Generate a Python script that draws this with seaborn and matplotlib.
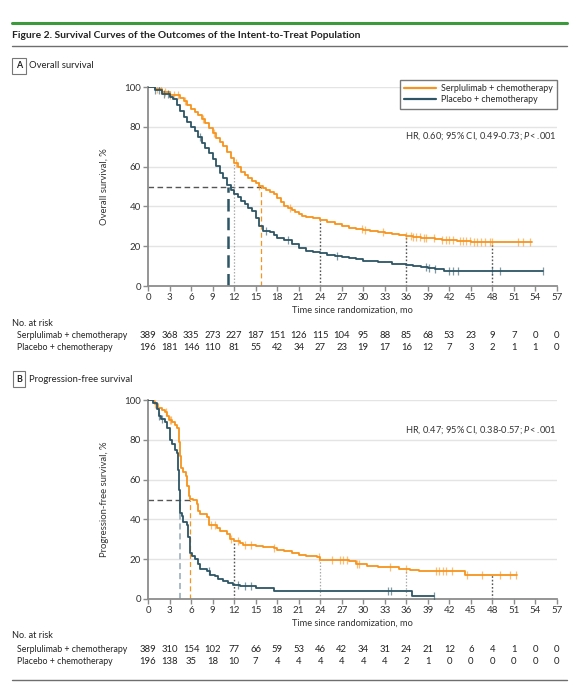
import numpy as np
import pandas as pd
import matplotlib
matplotlib.use("Agg")
import matplotlib.pyplot as plt
import matplotlib.transforms as mtrans
from matplotlib import font_manager
import seaborn as sns

# ---------------- data ----------------
arms = ["Serplulimab + chemotherapy", "Placebo + chemotherapy"]
months = list(range(0, 58, 3))

# Panel A: overall survival (step curves)
os_serp_t = [0, 1, 2, 3, 4.5, 5, 5.5, 6, 6.5, 7, 7.5, 8, 8.5, 9, 9.5, 10, 10.5, 11, 11.5, 12,
             12.5, 13, 13.5, 14, 14.5, 15, 15.5, 16, 16.5, 17, 17.5, 18, 18.5, 19, 19.5, 20,
             20.5, 21, 21.5, 22, 23, 24, 25, 26, 27, 28, 29, 30, 31, 32, 33, 34, 35, 36, 37,
             38, 39, 40, 41, 42, 43, 44, 45, 53.5]
os_serp_s = [100, 99, 97.5, 96, 94.5, 93, 91, 89, 87.5, 86, 84, 82, 79.5, 77, 74.5, 72.5, 70.5,
             67.5, 64.5, 62, 60, 57.5, 56, 54.5, 53, 52, 50.5, 49, 48, 47, 46, 44, 42, 40, 39,
             38, 37, 36, 35, 34.5, 34, 33, 32, 31, 30, 29, 28.5, 28, 27.5, 27, 26.5, 26, 25.7,
             25.3, 24.8, 24.3, 24, 23.7, 23.3, 23, 22.7, 22.4, 22.1, 22.1]
os_plac_t = [0, 1, 2, 3, 3.5, 4, 4.5, 5, 5.5, 6, 6.5, 7, 7.5, 8, 8.5, 9, 9.5, 10, 10.5, 11, 11.5,
             12, 12.5, 13, 13.5, 14, 14.5, 15, 15.5, 16, 17, 17.5, 18, 19, 20, 21, 22, 23, 24,
             25, 26, 27, 28, 29, 30, 32, 34, 36, 37, 38, 39, 40, 41.3, 55]
os_plac_s = [100, 98.5, 96.5, 95, 94, 91, 88, 85, 82.5, 80, 78, 75, 72, 69.5, 67, 64, 60.5, 57,
             54.5, 51, 48, 46, 44.5, 42.5, 41, 39, 37.5, 34, 30, 27.5, 27, 25.5, 24, 23, 21, 19,
             17.5, 17, 16.5, 15.5, 15, 14.5, 14, 13.5, 12.8, 12, 11, 10.4, 10, 9.5, 9.1, 8.5,
             7.3, 7.3]
os_serp_cens = [1.2, 1.8, 2.4, 3.0, 3.6, 4.2, 5.2, 7.6, 9.2, 12.3, 15.5, 19.8, 29.8, 30.3,
                32.8, 36.0, 36.6, 37.0, 37.4, 37.9, 38.4, 38.8, 39.8, 41.0, 41.5, 42.0, 42.5,
                43.5, 43.9, 44.3, 44.9, 45.4, 45.9, 46.4, 47.0, 47.6, 48.0, 51.6, 52.2, 53.2]
os_plac_cens = [1.0, 1.6, 2.2, 2.8, 7.2, 16.5, 19.5, 26.3, 38.8, 39.1, 40.0, 42.0, 42.5, 43.2,
                48.0, 49.0, 55.0]
os_at_risk_serp = [389, 368, 335, 273, 227, 187, 151, 126, 115, 104, 95, 88, 85, 68, 53, 23, 9, 7, 0, 0]
os_at_risk_plac = [196, 181, 146, 110, 81, 55, 42, 34, 27, 23, 19, 17, 16, 12, 7, 3, 2, 1, 1, 0]
os_median = [15.8, 11.1]
os_landmark_t = [12, 24, 36, 48]
os_landmark_s = [62, 33, 25.3, 22.1]
os_hr = "HR, 0.60; 95% CI, 0.49-0.73; $\\mathit{P}$< .001"

# Panel B: progression-free survival
pfs_serp_t = [0, 0.8, 1, 1.4, 1.9, 2.4, 2.7, 2.9, 3.3, 3.8, 4.1, 4.3, 4.45, 4.55, 4.9, 5.3, 5.5,
              5.7, 5.9, 6.3, 6.8, 7, 7.3, 8.2, 8.5, 9.6, 10, 11, 11.4, 12, 12.8, 13.3, 15, 16,
              17.5, 18, 19, 20, 21, 22, 23.5, 24, 28, 29, 30.5, 32, 35, 36.5, 37.7, 44.2, 51.4]
pfs_serp_s = [100, 99, 98, 96, 95, 94, 92, 90, 89, 87.5, 86, 79, 72, 66, 64, 62, 57, 52, 50.5,
              49.5, 47.5, 44, 42.5, 41, 37, 35.5, 34, 32.5, 30, 29, 28, 27, 26.5, 26, 25.5, 24.8,
              24, 23, 22, 21.6, 21, 19.5, 19, 17.8, 16.8, 16, 15.2, 14.7, 13.9, 12.2, 12.2]
pfs_plac_t = [0, 0.7, 1.2, 1.5, 1.8, 2.3, 2.7, 3, 3.4, 3.8, 4.0, 4.15, 4.3, 4.4, 4.5, 4.7, 4.9,
              5.4, 5.6, 5.8, 6.1, 6.5, 7, 7.25, 8.2, 8.6, 9.3, 9.8, 10.5, 11.2, 11.9, 12.8, 15.1,
              17.5, 36.8, 39.9]
pfs_plac_s = [100, 98.5, 95.5, 92, 90.5, 89, 86, 80, 78, 75, 73.5, 65, 55, 48, 43, 41.5, 38.5,
              37, 31, 23, 21.5, 20, 17.5, 15, 14, 12.3, 11.4, 10, 9, 8.2, 7.2, 6.3, 5.5, 4.0,
              1.6, 1.6]
pfs_serp_cens = [1.0, 2.5, 3.0, 3.2, 8.8, 9.3, 11.5, 12.5, 13.5, 14.3, 17.5, 23.8, 25.7, 26.7,
                 27.2, 27.7, 29.1, 29.4, 33.7, 36.0, 40.1, 40.6, 41.1, 41.6, 42.3, 44.4, 46.6,
                 49.0, 50.5, 51.3]
pfs_plac_cens = [1.5, 2.0, 8.5, 12.5, 13.5, 14.3, 33.5, 33.8, 39.9]
pfs_at_risk_serp = [389, 310, 154, 102, 77, 66, 59, 53, 46, 42, 34, 31, 24, 21, 12, 6, 4, 1, 0, 0]
pfs_at_risk_plac = [196, 138, 35, 18, 10, 7, 4, 4, 4, 4, 4, 4, 2, 1, 0, 0, 0, 0, 0, 0]
pfs_median = [5.9, 4.4]
pfs_landmark_t = [12, 24, 36, 48]
pfs_landmark_s = [29, 19.5, 14.7, 12.2]
pfs_hr = "HR, 0.47; 95% CI, 0.38-0.57; $\\mathit{P}$< .001"

# ---------------- style ----------------
ORANGE = "#F7941E"
TEAL = "#2E5566"
GRID = "#E4E4E4"
SPINE = "#8C8C8C"
TXT = "#333333"

sns.set_style("ticks")
avail = {f.name for f in font_manager.fontManager.ttflist}
FONT = "Liberation Sans Narrow" if "Liberation Sans Narrow" in avail else "Lato"
plt.rcParams["font.family"] = [FONT, "DejaVu Sans"]
plt.rcParams["mathtext.fontset"] = "custom"
plt.rcParams["mathtext.rm"] = FONT
plt.rcParams["mathtext.it"] = FONT + ":italic"

fig = plt.figure(figsize=(5.78, 6.88), dpi=100)
W, H = 578, 688


def fx(px):
    return px / W


def fy(py):
    return 1 - py / H


# header lines and title
fig.add_artist(plt.Line2D([fx(12), fx(567)], [fy(23), fy(23)], color="#3C9A3C", lw=2.2))
fig.add_artist(plt.Line2D([fx(12), fx(567)], [fy(46), fy(46)], color="#6E6E6E", lw=1.0))
fig.add_artist(plt.Line2D([fx(12), fx(567)], [fy(680), fy(680)], color="#6E6E6E", lw=1.0))
fig.text(fx(12), fy(35), "Figure 2. Survival Curves of the Outcomes of the Intent-to-Treat Population",
         fontsize=7.4, fontweight="bold", color="#222222", va="center", ha="left")


def step_at(times, surv, pts):
    times = np.asarray(times)
    surv = np.asarray(surv)
    idx = np.searchsorted(times, pts, side="right") - 1
    return surv[np.clip(idx, 0, len(surv) - 1)]


def panel(top_px, letter, title, ylabel, curves, cens, medians, lm_t, lm_s, lm_styles,
          plac_med_style, at_risk, hr_text, hr_y, legend):
    bottom_px = top_px + 199
    ax = fig.add_axes([fx(148), fy(bottom_px), fx(557) - fx(148), (199) / H])
    ax.set_xlim(0, 57)
    ax.set_ylim(0, 100)
    for v in [20, 40, 60, 80, 100]:
        ax.axhline(v, color=GRID, lw=1.0, zorder=0)
    # median / landmark guides
    ax.plot([0, medians[0]], [50, 50], color="#555555", lw=1.0, ls=(0, (4, 2.5)), zorder=2)
    ax.plot([medians[0], medians[0]], [0, 50], color=ORANGE, lw=0.9, ls=(0, (4, 2.5)), zorder=2)
    ax.plot([medians[1], medians[1]], [0, 50], **plac_med_style, zorder=2)
    for t, s, (c, lw) in zip(lm_t, lm_s, lm_styles):
        ax.plot([t, t], [0, s], color=c, lw=lw, ls=(0, (1.2, 1.4)), zorder=2)
    colors = [ORANGE, TEAL]
    for (t, s), ct, col, name in zip(curves, cens, colors, arms):
        df = pd.DataFrame({"t": t, "s": s})
        sns.lineplot(data=df, x="t", y="s", drawstyle="steps-post", color=col, lw=1.3,
                     ax=ax, estimator=None, sort=False, label=name, zorder=3)
        cy = step_at(t, s, ct)
        sns.scatterplot(x=ct, y=cy, marker="|", s=28, color=col, linewidth=0.9, alpha=0.6,
                        ax=ax, zorder=3, legend=False)
    ax.set_xticks(months)
    ax.set_yticks([0, 20, 40, 60, 80, 100])
    ax.tick_params(axis="both", labelsize=7.0, colors=SPINE, labelcolor=TXT, length=3.5,
                   width=1.0, direction="out", pad=1.5)
    for sp in ["top", "right"]:
        ax.spines[sp].set_visible(False)
    for sp in ["left", "bottom"]:
        ax.spines[sp].set_color(SPINE)
        ax.spines[sp].set_linewidth(1.3)
    ax.set_xlabel("Time since randomization, mo", fontsize=6.7, color=TXT, labelpad=3)
    ax.set_ylabel(ylabel, fontsize=6.8, color=TXT, labelpad=11)
    if legend:
        leg = ax.legend(loc="upper right", bbox_to_anchor=(1.0, 1.035), borderaxespad=0,
                        fontsize=6.4, frameon=True, fancybox=False, handlelength=3.6,
                        handletextpad=0.5, borderpad=0.5, labelspacing=0.2)
        leg.get_frame().set_edgecolor("#555555")
        leg.get_frame().set_linewidth(1.0)
        for h in leg.get_lines():
            h.set_linewidth(1.6)
    else:
        if ax.get_legend():
            ax.get_legend().remove()
    ax.text(1.0, hr_y, hr_text, transform=ax.transAxes, ha="right", va="center",
            fontsize=6.7, color=TXT)
    # panel label
    fig.text(fx(19), fy(top_px - 21), letter, fontsize=6.4, fontweight="bold", ha="center",
             va="center", color="#222222",
             bbox=dict(boxstyle="square,pad=0.4", fc="white", ec="#777777", lw=0.8))
    fig.text(fx(29), fy(top_px - 21), title, fontsize=6.8, ha="left", va="center", color="#222222")
    # number at risk
    tr = mtrans.blended_transform_factory(ax.transData, fig.transFigure)
    fig.text(fx(12), fy(bottom_px + 37), "No. at risk", fontsize=6.6, ha="left", va="center",
             color="#222222")
    for k, (name, vals) in enumerate(zip(arms, at_risk)):
        ypx = bottom_px + 50 + 12 * k
        fig.text(fx(17), fy(ypx), name, fontsize=6.3, ha="left", va="center", color="#222222")
        for m, v in zip(months, vals):
            ax.text(m, fy(ypx), str(v), transform=tr, fontsize=6.8, ha="center", va="center",
                    color="#222222")
    return ax


panel(87, "A", "Overall survival", "Overall survival, %",
      [(os_serp_t, os_serp_s), (os_plac_t, os_plac_s)],
      [os_serp_cens, os_plac_cens], os_median, os_landmark_t, os_landmark_s,
      [("#AAAAAA", 0.9), ("#555555", 1.0), ("#555555", 1.0), ("#555555", 1.0)],
      dict(color=TEAL, lw=1.8, ls=(0, (5, 2.5))),
      [os_at_risk_serp, os_at_risk_plac], os_hr, 0.754, True)

panel(400, "B", "Progression-free survival", "Progression-free survival, %",
      [(pfs_serp_t, pfs_serp_s), (pfs_plac_t, pfs_plac_s)],
      [pfs_serp_cens, pfs_plac_cens], pfs_median, pfs_landmark_t, pfs_landmark_s,
      [("#555555", 1.0), ("#AAAAAA", 0.9), ("#AAAAAA", 0.9), ("#555555", 1.0)],
      dict(color="#8FA8B6", lw=1.1, ls=(0, (4, 2.5))),
      [pfs_at_risk_serp, pfs_at_risk_plac], pfs_hr, 0.85, False)

fig.savefig("out.png", dpi=100)
